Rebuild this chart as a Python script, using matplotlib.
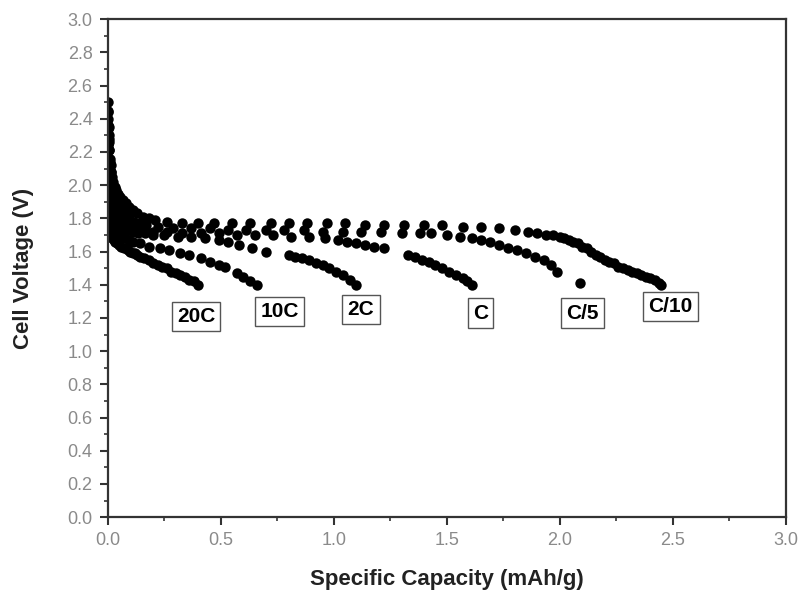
import numpy as np
import matplotlib
matplotlib.use('Agg')
from matplotlib import pyplot as plt
from matplotlib.ticker import MultipleLocator

plt.rcParams['font.family'] = ['Liberation Sans', 'DejaVu Sans']

# discharge curves, one per C-rate
x_c10 = [0, 0.001, 0.002, 0.003, 0.004, 0.005, 0.007, 0.009, 0.012, 0.015, 0.019, 0.024, 0.03, 0.037, 0.045,
         0.055, 0.066, 0.08, 0.095, 0.11, 0.13, 0.155, 0.18, 0.21, 0.26, 0.33, 0.4, 0.47, 0.55, 0.63,
         0.72, 0.8, 0.88, 0.97, 1.05, 1.14, 1.22, 1.31, 1.4, 1.48, 1.57, 1.65, 1.73, 1.8, 1.86,
         1.9, 1.94, 1.97, 2.0, 2.02, 2.04, 2.06, 2.08, 2.1, 2.12, 2.14, 2.16, 2.18, 2.2, 2.22,
         2.24, 2.26, 2.28, 2.3, 2.32, 2.34, 2.36, 2.38, 2.4, 2.42, 2.44, 2.45]
y_c10 = [2.50, 2.45, 2.40, 2.35, 2.30, 2.26, 2.21, 2.16, 2.12, 2.08, 2.05, 2.02, 1.99, 1.97, 1.95,
         1.93, 1.91, 1.89, 1.87, 1.85, 1.83, 1.81, 1.80, 1.79, 1.78, 1.77, 1.77, 1.77, 1.77, 1.77,
         1.77, 1.77, 1.77, 1.77, 1.77, 1.76, 1.76, 1.76, 1.76, 1.76, 1.75, 1.75, 1.74, 1.73, 1.72,
         1.71, 1.70, 1.70, 1.69, 1.68, 1.67, 1.66, 1.65, 1.63, 1.62, 1.60, 1.58, 1.57, 1.55, 1.54,
         1.53, 1.51, 1.50, 1.49, 1.48, 1.47, 1.46, 1.45, 1.44, 1.43, 1.41, 1.40]

x_c5 = [0, 0.002, 0.004, 0.006, 0.009, 0.012, 0.016, 0.021, 0.027, 0.034, 0.042, 0.052, 0.064, 0.078, 0.095,
        0.115, 0.14, 0.17, 0.22, 0.29, 0.37, 0.45, 0.53, 0.61, 0.7, 0.78, 0.87, 0.95, 1.04, 1.12,
        1.21, 1.3, 1.38, 1.43, 1.5, 1.56, 1.61, 1.65, 1.69, 1.73, 1.77, 1.81, 1.85, 1.89, 1.93,
        1.96, 1.99, 2.09]
y_c5 = [2.44, 2.36, 2.28, 2.21, 2.14, 2.08, 2.03, 1.99, 1.95, 1.92, 1.89, 1.86, 1.84, 1.82, 1.80,
        1.78, 1.77, 1.76, 1.75, 1.74, 1.74, 1.74, 1.73, 1.73, 1.73, 1.73, 1.73, 1.72, 1.72, 1.72,
        1.72, 1.71, 1.71, 1.71, 1.70, 1.69, 1.68, 1.67, 1.66, 1.64, 1.62, 1.61, 1.59, 1.57, 1.55,
        1.52, 1.48, 1.41]

x_c = [0, 0.002, 0.004, 0.007, 0.01, 0.014, 0.019, 0.025, 0.032, 0.04, 0.05, 0.062, 0.076, 0.092, 0.11,
       0.135, 0.165, 0.2, 0.26, 0.33, 0.41, 0.49, 0.57, 0.65, 0.73, 0.81, 0.89, 0.96, 1.02, 1.06,
       1.1, 1.14, 1.18, 1.22, 1.33, 1.36, 1.39, 1.42, 1.45, 1.48, 1.51, 1.54, 1.57, 1.59, 1.61]
y_c = [2.34, 2.25, 2.16, 2.08, 2.02, 1.97, 1.93, 1.89, 1.86, 1.83, 1.81, 1.79, 1.77, 1.76, 1.75,
       1.74, 1.73, 1.72, 1.72, 1.71, 1.71, 1.71, 1.70, 1.70, 1.70, 1.69, 1.69, 1.68, 1.67, 1.66,
       1.65, 1.64, 1.63, 1.62, 1.58, 1.57, 1.55, 1.54, 1.52, 1.50, 1.48, 1.46, 1.44, 1.42, 1.40]

x_2c = [0, 0.002, 0.004, 0.007, 0.01, 0.014, 0.019, 0.025, 0.032, 0.04, 0.05, 0.062, 0.076, 0.092, 0.11,
        0.135, 0.165, 0.2, 0.25, 0.31, 0.37, 0.43, 0.49, 0.53, 0.58, 0.64, 0.7, 0.8, 0.83, 0.86,
        0.89, 0.92, 0.95, 0.98, 1.01, 1.04, 1.07, 1.1]
y_2c = [2.24, 2.15, 2.07, 2.0, 1.95, 1.91, 1.87, 1.84, 1.81, 1.79, 1.77, 1.75, 1.74, 1.73, 1.72,
        1.71, 1.71, 1.70, 1.70, 1.69, 1.69, 1.68, 1.67, 1.66, 1.64, 1.62, 1.60, 1.58, 1.57, 1.56,
        1.55, 1.53, 1.52, 1.50, 1.48, 1.46, 1.43, 1.40]

x_10c = [0, 0.002, 0.004, 0.007, 0.01, 0.014, 0.019, 0.025, 0.032, 0.04, 0.05, 0.062, 0.076, 0.092, 0.11,
         0.14, 0.18, 0.23, 0.27, 0.32, 0.36, 0.41, 0.45, 0.49, 0.52, 0.57, 0.6, 0.63, 0.66]
y_10c = [2.05, 1.98, 1.93, 1.88, 1.84, 1.81, 1.78, 1.76, 1.74, 1.72, 1.71, 1.70, 1.68, 1.67, 1.66,
         1.65, 1.63, 1.62, 1.61, 1.59, 1.58, 1.56, 1.54, 1.52, 1.51, 1.47, 1.45, 1.42, 1.40]

x_20c = [0, 0.002, 0.004, 0.007, 0.01, 0.014, 0.019, 0.025, 0.032, 0.04, 0.05, 0.06, 0.07, 0.08, 0.09,
         0.1, 0.11, 0.12, 0.13, 0.14, 0.16, 0.18, 0.2, 0.22, 0.24, 0.26, 0.28, 0.3, 0.32, 0.34,
         0.36, 0.38, 0.4]
y_20c = [1.80, 1.76, 1.73, 1.71, 1.70, 1.69, 1.68, 1.67, 1.66, 1.65, 1.64, 1.63, 1.62, 1.62, 1.61,
         1.60, 1.59, 1.59, 1.58, 1.57, 1.56, 1.55, 1.53, 1.52, 1.51, 1.50, 1.48, 1.47, 1.46, 1.45,
         1.43, 1.42, 1.40]

rate_names = ['20C', '10C', '2C', 'C', 'C/5', 'C/10']
label_x = [0.39, 0.76, 1.12, 1.65, 2.10, 2.49]
label_y = [1.21, 1.24, 1.25, 1.23, 1.23, 1.27]

fig = plt.figure(figsize=(8.05, 6.0), dpi=100)
ax = fig.add_axes([0.134, 0.138, 0.842, 0.830])

curves = [(x_20c, y_20c), (x_10c, y_10c), (x_2c, y_2c), (x_c, y_c), (x_c5, y_c5), (x_c10, y_c10)]
for xs, ys in curves:
    ax.plot(xs, ys, 'o', color='black', markersize=7.5, markeredgewidth=0)

for name, lx, ly in zip(rate_names, label_x, label_y):
    ax.text(lx, ly, name, ha='center', va='center', fontsize=15, fontweight='bold',
            bbox=dict(boxstyle='square,pad=0.25', facecolor='white', edgecolor='#555555', linewidth=1))

ax.set_xlim(0, 3.0)
ax.set_ylim(0, 3.0)
ax.xaxis.set_major_locator(MultipleLocator(0.5))
ax.xaxis.set_minor_locator(MultipleLocator(0.25))
ax.yaxis.set_major_locator(MultipleLocator(0.2))
ax.yaxis.set_minor_locator(MultipleLocator(0.1))
ax.xaxis.set_major_formatter(plt.FormatStrFormatter('%.1f'))
ax.yaxis.set_major_formatter(plt.FormatStrFormatter('%.1f'))

for s in ax.spines.values():
    s.set_linewidth(1.6)
    s.set_color('#333333')
ax.tick_params(which='major', direction='out', length=6, width=1.5, color='#333333',
               labelsize=13, labelcolor='#8a8a8a', pad=5)
ax.tick_params(which='minor', direction='out', length=3, width=1.2, color='#333333')
ax.tick_params(top=False, right=False, which='both')

ax.set_xlabel('Specific Capacity (mAh/g)', fontsize=16, fontweight='bold', color='#222222', labelpad=14)
ax.set_ylabel('Cell Voltage (V)', fontsize=16, fontweight='bold', color='#222222', labelpad=24)

fig.savefig('out.png', dpi=100, facecolor='white')
